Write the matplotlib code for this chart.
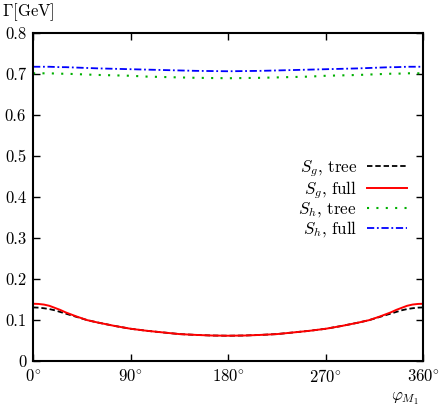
import matplotlib
matplotlib.use("Agg")
import matplotlib.pyplot as plt

plt.rcParams["font.family"] = "serif"
plt.rcParams["font.serif"] = ["cmr10", "DejaVu Serif"]
plt.rcParams["mathtext.fontset"] = "cm"
plt.rcParams["axes.unicode_minus"] = False

# angle phi_M1 in degrees (0..180, mirrored for 180..360)
half_phi = [0, 5, 10, 15, 20, 25, 30, 40, 50, 60, 75, 90,
            105, 120, 135, 150, 165, 180]

half_sg_full = [0.140, 0.1395, 0.138, 0.135, 0.130, 0.125, 0.119, 0.109,
                0.100, 0.094, 0.086, 0.079, 0.074, 0.070, 0.066, 0.064,
                0.0625, 0.062]
half_sg_tree = [0.131, 0.1305, 0.129, 0.127, 0.124, 0.120, 0.116, 0.108,
                0.100, 0.094, 0.086, 0.079, 0.074, 0.070, 0.066, 0.064,
                0.0625, 0.062]
half_sh_tree = [0.702, 0.702, 0.702, 0.702, 0.7015, 0.701, 0.701, 0.700,
                0.699, 0.698, 0.697, 0.696, 0.694, 0.693, 0.692, 0.691,
                0.6905, 0.690]
half_sh_full = [0.718, 0.718, 0.718, 0.718, 0.7175, 0.717, 0.717, 0.716,
                0.715, 0.714, 0.713, 0.712, 0.711, 0.710, 0.709, 0.708,
                0.7075, 0.707]

phi = half_phi + [360 - p for p in half_phi[-2::-1]]
sg_full = half_sg_full + half_sg_full[-2::-1]
sg_tree = half_sg_tree + half_sg_tree[-2::-1]
sh_tree = half_sh_tree + half_sh_tree[-2::-1]
sh_full = half_sh_full + half_sh_full[-2::-1]

xticks = [0, 90, 180, 270, 360]
xticklabels = [r"$0^{\circ}$", r"$90^{\circ}$", r"$180^{\circ}$",
               r"$270^{\circ}$", r"$360^{\circ}$"]
yticks = [0, 0.1, 0.2, 0.3, 0.4, 0.5, 0.6, 0.7, 0.8]
yticklabels = ["0", "0.1", "0.2", "0.3", "0.4", "0.5", "0.6", "0.7", "0.8"]

fig = plt.figure(figsize=(4.41, 4.09), dpi=100)
ax = fig.add_axes([0.075, 0.117, 0.885, 0.802])

ax.plot(phi, sg_tree, color="black", linestyle=(0, (3, 1.6)), lw=1.3,
        label=r"$S_g$, tree")
ax.plot(phi, sg_full, color="#ff0000", linestyle="-", lw=1.4,
        label=r"$S_g$, full")
ax.plot(phi, sh_tree, color="#00b000", linestyle=(0, (1, 3.5)), lw=1.5,
        label=r"$S_h$, tree")
ax.plot(phi, sh_full, color="#0000ff", linestyle=(0, (4, 1.5, 1, 1.5)), lw=1.3,
        label=r"$S_h$, full")

ax.set_xlim(0, 360)
ax.set_ylim(0, 0.8)
ax.set_xticks(xticks)
ax.set_xticklabels(xticklabels)
ax.set_yticks(yticks)
ax.set_yticklabels(yticklabels)
ax.tick_params(direction="in", length=5, width=1, top=True, right=True,
               labelsize=12, pad=5)
for s in ax.spines.values():
    s.set_linewidth(1.5)

leg = ax.legend(loc="upper right", bbox_to_anchor=(0.975, 0.64),
                markerfirst=False, frameon=False, fontsize=12.2,
                handlelength=2.35, handletextpad=0.6, labelspacing=0.0,
                borderaxespad=0)

fig.text(0.005, 0.97, r"$\Gamma$[GeV]", fontsize=12, ha="left", va="center")
fig.text(0.918, 0.025, r"$\varphi_{M_1}$", fontsize=12, ha="center", va="center")

fig.savefig("out.png", dpi=100)
plt.close(fig)
